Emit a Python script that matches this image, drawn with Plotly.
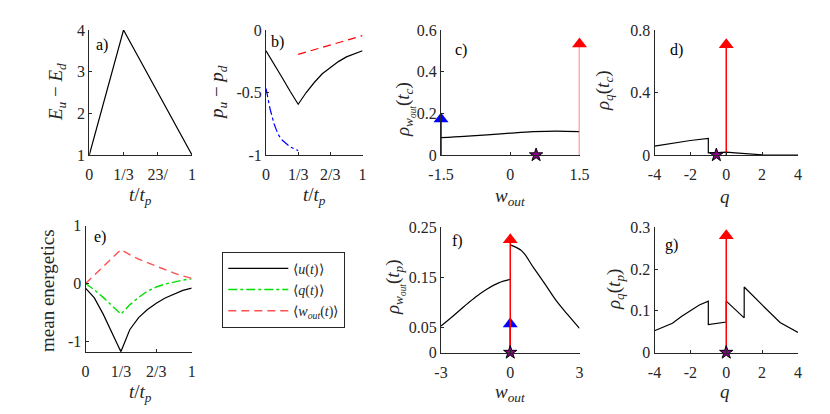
import plotly.graph_objects as go

FONT = "Liberation Serif"
INK = "#262626"

# a) energy gap over the cycle
a_t = [0, 1/3, 1]
a_gap = [1, 4, 1]

# b) population difference
b_t = [0, 1/12, 2/12, 3/12, 4/12, 5/12, 6/12, 7/12, 8/12, 9/12, 10/12, 11/12, 1]
b_black = [-0.166, -0.27, -0.38, -0.49, -0.594, -0.50, -0.42, -0.35, -0.30, -0.253, -0.215, -0.19, -0.166]
b_red_t = [1/3, 2/3, 1]
b_red = [-0.195, -0.12, -0.045]
b_blue_t = [0, 1/24, 2/24, 3/24, 4/24, 5/24, 6/24, 7/24, 8/24]
b_blue = [-0.467, -0.63, -0.75, -0.835, -0.88, -0.91, -0.935, -0.95, -0.965]

# c) work distribution at t_c
c_w = [-1.5, -1.0, -0.5, 0, 0.5, 1.0, 1.5]
c_rho = [0.083, 0.089, 0.097, 0.105, 0.112, 0.115, 0.112]
c_blue_arrow = (-1.5, 0.173)
c_red_arrow = (1.5, 0.533)
c_star = 0.56

# d) heat distribution at t_c
d_q = [-4, -3, -2, -1, -1, -0.5, 0, 0.5, 1, 1.5, 2, 3, 4]
d_rho = [0.057, 0.075, 0.093, 0.106, 0.013, 0.015, 0.018, 0.014, 0.009, 0.004, 0.001, 0, 0]
d_red_arrow = (0, 0.705)
d_star = -0.55

# e) mean energetics
e_t = [0, 1/12, 2/12, 3/12, 4/12, 5/12, 6/12, 7/12, 8/12, 9/12, 10/12, 11/12, 1]
e_u = [-0.08, -0.25, -0.53, -0.87, -1.18, -0.80, -0.59, -0.45, -0.34, -0.25, -0.18, -0.12, -0.08]
e_q = [0, -0.11, -0.24, -0.38, -0.53, -0.37, -0.24, -0.13, -0.06, -0.01, 0.03, 0.06, 0.08]
e_w = [0, 0.14, 0.29, 0.44, 0.585, 0.50, 0.42, 0.36, 0.30, 0.23, 0.18, 0.13, 0.09]

# f) work distribution at t_p
f_w_left = [-3, -2.5, -2, -1.5, -1, -0.5, 0]
f_rho_left = [0.053, 0.072, 0.092, 0.111, 0.127, 0.139, 0.146]
f_w_right = [0, 0.5, 1, 1.5, 2, 2.5, 3]
f_rho_right = [0.215, 0.203, 0.17, 0.137, 0.103, 0.075, 0.048]
f_red_arrow = (0, 0.225)
f_blue_arrow = (0, 0.057)
f_star = 0

# g) heat distribution at t_p
g_q = [-4, -3, -2.5, -2, -1.5, -1, -1, 0, 0, 1, 1, 2, 3, 4]
g_rho = [0.052, 0.070, 0.086, 0.101, 0.114, 0.123, 0.067, 0.073, 0.123, 0.083, 0.157, 0.114, 0.072, 0.048]
g_red_arrow = (0, 0.28)
g_star = 0

T_TITLE = "<i>t</i>/<i>t</i><sub><i>p</i></sub>"
W_TITLE = "<i>w</i><sub><i>out</i></sub>"

# the page body has an 8px margin, so lay out in window pixels minus that
W, H, OFF = 814, 398, 8


def px_x(p):
    return (p - OFF) / W


def px_y(p):
    return 1 - (p - OFF) / H


fig = go.Figure()


def line(x, y, ax, color="black", dash="solid", width=1.2, shape="linear", name=None):
    fig.add_trace(go.Scatter(x=x, y=y, mode="lines", xaxis="x" + ax, yaxis="y" + ax,
                             line=dict(color=color, dash=dash, width=width, shape=shape),
                             name=name, showlegend=name is not None, hoverinfo="skip"))


def arrow(pos, ax, color, stem=None):
    x0, top = pos
    fig.add_trace(go.Scatter(x=[x0, x0], y=[0, top], mode="lines+markers", xaxis="x" + ax, yaxis="y" + ax,
                             line=dict(color=stem or color, width=1.5),
                             marker=dict(symbol="triangle-up", size=[0, 13], color=color, opacity=1,
                                         line=dict(width=0)),
                             cliponaxis=False, showlegend=False, hoverinfo="skip"))


def star(x0, ax):
    fig.add_trace(go.Scatter(x=[x0], y=[0], mode="markers", xaxis="x" + ax, yaxis="y" + ax,
                             marker=dict(symbol="star", size=10, color="#8b008b", line=dict(color="black", width=1)),
                             cliponaxis=False, showlegend=False, hoverinfo="skip"))


# a
line(a_t, a_gap, "")
# b
line(b_t, b_black, "2")
line(b_red_t, b_red, "2", color="red", dash="8px,5px")
line(b_blue_t, b_blue, "2", color="blue", dash="dashdot")
# c
line(c_w, c_rho, "3", shape="spline")
arrow(c_blue_arrow, "3", "blue")
arrow(c_red_arrow, "3", "red", stem="#ff5c5c")
star(c_star, "3")
# d
line(d_q, d_rho, "4")
arrow(d_red_arrow, "4", "red")
star(d_star, "4")
# e
line(e_t, e_u, "5", name="⟨<i>u</i>(<i>t</i>)⟩")
line(e_t, e_q, "5", color="#00e000", dash="dashdot", width=1.4, name="⟨<i>q</i>(<i>t</i>)⟩")
line(e_t, e_w, "5", color="#ff5050", dash="8px,5px", width=1.4, name="⟨<i>w</i><sub><i>out</i></sub>(<i>t</i>)⟩")
# f
line(f_w_left, f_rho_left, "6", shape="spline")
line(f_w_right, f_rho_right, "6", shape="spline")
arrow(f_blue_arrow, "6", "blue")
arrow(f_red_arrow, "6", "red")
star(f_star, "6")
# g
line(g_q, g_rho, "7")
arrow(g_red_arrow, "7", "red")
star(g_star, "7")


def axis(px_range, rng, vals, text, anchor, horizontal):
    if horizontal:
        domain = [px_x(px_range[0]), px_x(px_range[1])]
    else:
        domain = [px_y(px_range[1]), px_y(px_range[0])]
    ax = dict(domain=domain, range=rng, tickvals=vals, ticktext=text,
              showline=True, linecolor=INK, linewidth=1, ticks="inside", ticklen=3, tickcolor=INK,
              tickfont=dict(family=FONT, size=16, color=INK), showgrid=False, zeroline=False,
              anchor=anchor, automargin=False, fixedrange=True)
    if horizontal:
        ax["ticklabelstandoff"] = 5
    return ax


top = (30, 155)
bot = (227.3, 352.5)
T_TICKS = [0, 1/3, 2/3, 1]

fig.update_layout(
    width=W, height=H, margin=dict(l=0, r=0, t=0, b=0),
    paper_bgcolor="white", plot_bgcolor="white",
    font=dict(family=FONT, color=INK),
    xaxis=axis((89.3, 192), [0, 1], T_TICKS, ["0", "1/3", "23/", "1"], "y", True),
    yaxis=axis(top, [1, 4], [1, 2, 3, 4], ["1", "2", "3", "4"], "x", False),
    xaxis2=axis((266, 362.5), [0, 1], T_TICKS, ["0", "1/3", "2/3", "1"], "y2", True),
    yaxis2=axis(top, [-1, 0], [-1, -0.5, 0], ["-1", "-0.5", "0"], "x2", False),
    xaxis3=axis((441, 579.5), [-1.5, 1.5], [-1.5, 0, 1.5], ["-1.5", "0", "1.5"], "y3", True),
    yaxis3=axis(top, [0, 0.6], [0, 0.2, 0.4, 0.6], ["0", "0.2", "0.4", "0.6"], "x3", False),
    xaxis4=axis((654.5, 798), [-4, 4], [-4, -2, 0, 2, 4], ["-4", "-2", "0", "2", "4"], "y4", True),
    yaxis4=axis(top, [0, 0.8], [0, 0.4, 0.8], ["0", "0.4", "0.8"], "x4", False),
    xaxis5=axis((85.5, 191.7), [0, 1], T_TICKS, ["0", "1/3", "2/3", "1"], "y5", True),
    yaxis5=axis((225.7, 351.7), [-1.18, 1], [-1, 0, 1], ["-1", "0", "1"], "x5", False),
    xaxis6=axis((441, 579.5), [-3, 3], [-3, 0, 3], ["-3", "0", "3"], "y6", True),
    yaxis6=axis(bot, [0, 0.25], [0, 0.05, 0.15, 0.25], ["0", "0.05", "0.15", "0.25"], "x6", False),
    xaxis7=axis((654.5, 798), [-4, 4], [-4, -2, 0, 2, 4], ["-4", "-2", "0", "2", "4"], "y7", True),
    yaxis7=axis(bot, [0, 0.3], [0, 0.1, 0.2, 0.3], ["0", "0.1", "0.2", "0.3"], "x7", False),
    legend=dict(x=px_x(222.3), y=px_y(251.7), xanchor="left", yanchor="top", bgcolor="white",
                bordercolor=INK, borderwidth=1, itemwidth=60, tracegroupgap=0,
                font=dict(family=FONT, size=14, color=INK)),
    showlegend=True,
)

# axis titles: (text, centre x px, centre y px, rotated)
titles = [
    ("<i>E</i><sub><i>u</i></sub> − <i>E</i><sub><i>d</i></sub>", 57, 92, True),
    ("<i>p</i><sub><i>u</i></sub> − <i>p</i><sub><i>d</i></sub>", 218, 93, True),
    ("<i>ρ</i><sub><i>w</i><sub><i>out</i></sub></sub>(<i>t</i><sub><i>c</i></sub>)", 405, 110, True),
    ("<i>ρ</i><sub><i>q</i></sub>(<i>t</i><sub><i>c</i></sub>)", 604, 91, True),
    ("mean energetics", 47, 291, True),
    ("<i>ρ</i><sub><i>w</i><sub><i>out</i></sub></sub>(<i>t</i><sub><i>p</i></sub>)", 395, 288, True),
    ("<i>ρ</i><sub><i>q</i></sub>(<i>t</i><sub><i>p</i></sub>)", 615, 290, True),
    (T_TITLE, 140, 196, False),
    (T_TITLE, 314, 196, False),
    (W_TITLE, 510, 197, False),
    ("<i>q</i>", 725, 196, False),
    (T_TITLE, 140, 393, False),
    (W_TITLE, 510, 393, False),
    ("<i>q</i>", 725, 391, False),
]
for txt, cx, cy, rot in titles:
    fig.add_annotation(text=txt, xref="paper", yref="paper", x=px_x(cx), y=px_y(cy),
                       xanchor="center", yanchor="middle", textangle=-90 if rot else 0,
                       showarrow=False, font=dict(family=FONT, size=19, color=INK))

labels = [("a)", "", 0.046, 0.88), ("b)", "2", 0.03, 0.906), ("c)", "3", 0.087, 0.84), ("d)", "4", 0.094, 0.84),
          ("e)", "5", 0.061, 0.913), ("f)", "6", 0.065, 0.89), ("g)", "7", 0.06, 0.857)]
for txt, ax, lx, ly in labels:
    fig.add_annotation(text=txt, xref="x" + ax + " domain", yref="y" + ax + " domain", x=lx, y=ly,
                       xanchor="left", yanchor="middle", showarrow=False,
                       font=dict(family=FONT, size=16, color="black"))

fig.write_html("out.html")
